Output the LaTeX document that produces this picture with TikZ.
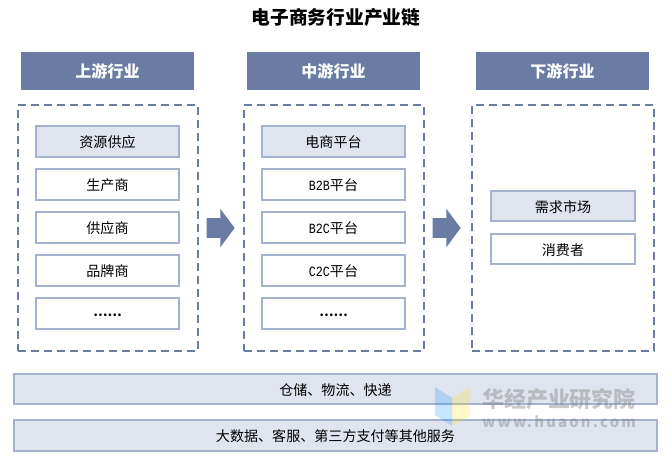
\documentclass[tikz,border=0pt]{standalone}
\usepackage{fontspec}
\setmainfont{Noto Sans CJK SC}
\newfontfamily\latfont[FakeStretch=0.83]{Liberation Mono}
\usepackage{xcolor}
\usetikzlibrary{positioning}
\usetikzlibrary{shapes.arrows}
\definecolor{headblue}{HTML}{6A7CA3}
\definecolor{itemblue}{HTML}{A5B2CD}
\definecolor{paleblue}{HTML}{E0E4EE}
\newcommand{\lat}[1]{{\latfont #1}}
\newcommand{\moredots}{\raisebox{0.08cm}{\fontsize{9}{11}\selectfont\bfseries ……}}
\tikzstyle{head} = [fill=headblue, text=white,
	font=\fontsize{11.4}{13}\selectfont\bfseries,
	outer sep=0pt, inner sep=0pt,
	minimum width = 4.325cm,
	minimum height = 0.95cm]
\tikzstyle{group} = [draw=headblue, line width=0.05cm,
	dash pattern=on 0.2cm off 0.125cm,
	outer sep=0pt, minimum width = 4.5cm]
\tikzstyle{item} = [draw=itemblue, line width=0.05cm,
	font=\fontsize{10}{12}\selectfont,
	outer sep=0pt, inner sep=0pt,
	text height=0.36cm, text depth=0.04cm,
	minimum width = 3.575cm,
	minimum height = 0.76cm]
\tikzstyle{bar} = [item, fill=paleblue,
	minimum width = 16.05cm]
\tikzstyle{flow} = [single arrow, fill=headblue, outer sep=0pt,
	inner xsep=0pt, inner ysep=0.2375cm,
	minimum height = 0.7cm,
	single arrow head extend = 0.2375cm,
	single arrow tip angle = 107,
	single arrow head indent = 0cm]
\begin{document}
\begin{tikzpicture}[x=0.025cm, y=-0.025cm]
	\useasboundingbox (0,0) rectangle (672,462);
	\node (title) at (336,17) {\fontsize{13.3}{15}\selectfont\bfseries 电子商务行业产业链};

	\node (uphead) [head] at (107.5,71) {上游行业};
	\node (midhead) [head] at (333.5,71) {中游行业};
	\node (downhead) [head] at (562.5,71) {下游行业};

	\node (upgroup) [group, minimum height=6.15cm] at (108,228) {};
	\node (midgroup) [group, minimum height=6.15cm] at (334,228) {};
	\node (downgroup) [group, minimum width=4.55cm, minimum height=6.15cm] at (563,228) {};

	\node (res) [item, fill=paleblue] at (107.5,141.5) {资源供应};
	\node (maker) [item, below=0.315cm of res] {生产商};
	\node (supply) [item, below=0.315cm of maker] {供应商};
	\node (brand) [item, below=0.315cm of supply] {品牌商};
	\node (upmore) [item, below=0.315cm of brand] {\moredots};

	\node (shop) [item, fill=paleblue] at (333.5,141.5) {电商平台};
	\node (btob) [item, below=0.315cm of shop] {\lat{B2B}平台};
	\node (btoc) [item, below=0.315cm of btob] {\lat{B2C}平台};
	\node (ctoc) [item, below=0.315cm of btoc] {\lat{C2C}平台};
	\node (midmore) [item, below=0.315cm of ctoc] {\moredots};

	\node (need) [item, fill=paleblue] at (563,206) {需求市场};
	\node (buyer) [item, below=0.315cm of need] {消费者};

	\node (flowa) [flow] at (217,228) {};
	\node (flowb) [flow] at (443,228) {};

	\node (depot) [bar] at (335.5,389) {仓储、物流、快递};
	\node (data) [bar] at (335.5,435.5) {大数据、客服、第三方支付等其他服务};

	% watermark
	\fill [blue!45!cyan, opacity=0.22] (435,387) -- (452,398) -- (452,426) -- (435,415) -- cycle;
	\fill [yellow!80!orange, opacity=0.22] (452,398) -- (470,387) -- (470,416) -- (452,426) -- cycle;
	\node (mark) [text=gray, opacity=0.42, inner sep=0pt] at (559,399) {\fontsize{15.6}{18}\selectfont\bfseries 华经产业研究院};
	\node (site) [text=gray, opacity=0.42, inner sep=0pt] at (559,421.5) {\fontsize{10.5}{12}\selectfont\bfseries\addfontfeatures{LetterSpace=15}www.huaon.com};
\end{tikzpicture}
\end{document}
